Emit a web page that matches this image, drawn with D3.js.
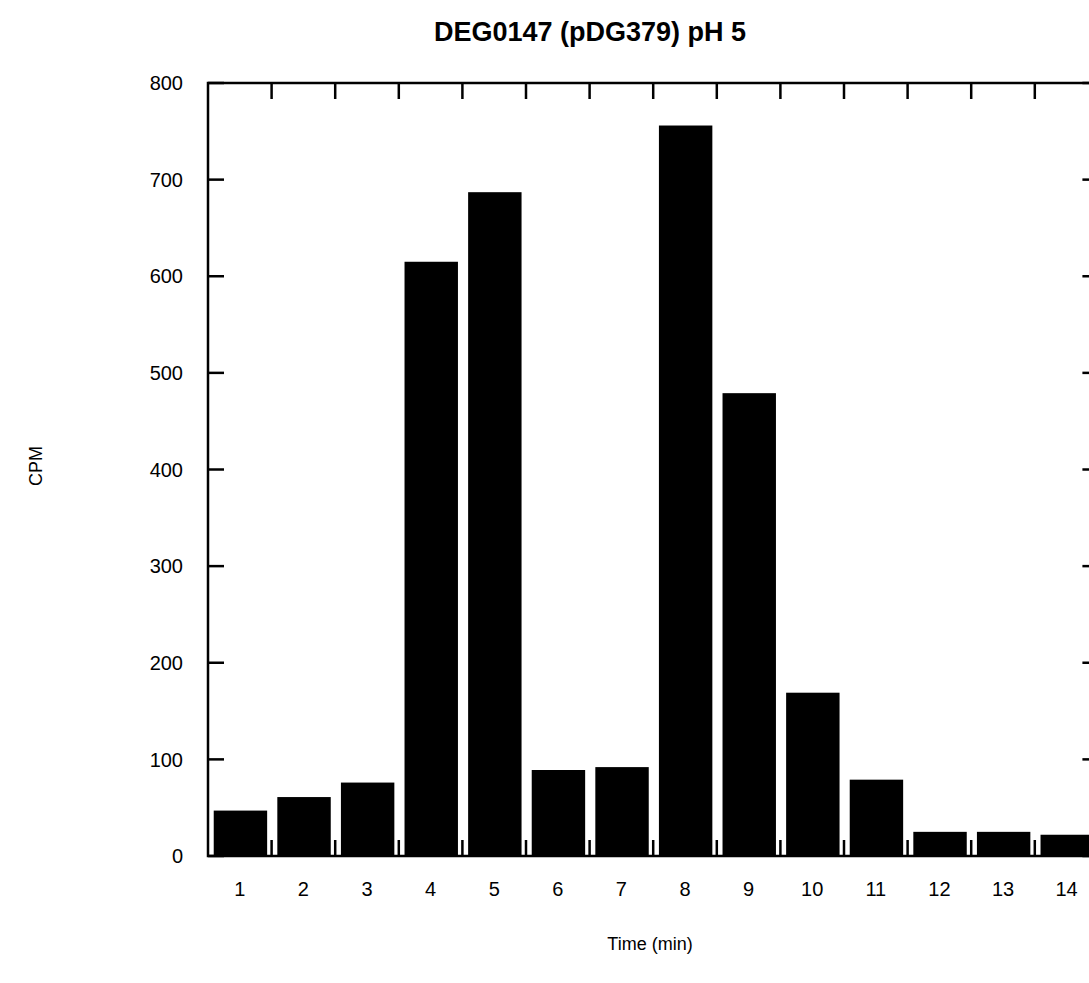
<!DOCTYPE html>
<html>
<head>
<meta charset="UTF-8">
<title>DEG0147 (pDG379) pH 5</title>
<script src="https://d3js.org/d3.v7.min.js"></script>
<style>
  body {margin: 0; background: #fff;}
  text {font-family: "Liberation Sans", Arial, Helvetica, sans-serif; fill: #000;}
  .bar {fill: #000;}
  .frame, .tick {stroke: #000; stroke-width: 2.5; fill: none;}
</style>
</head>
<body>
<div id="chart"></div>
<script>
// data
var minutes = ["1","2","3","4","5","6","7","8","9","10","11","12","13","14"];
var cpm = [47, 61, 76, 615, 687, 89, 92, 756, 479, 169, 79, 25, 25, 22];
var yTicks = [0, 100, 200, 300, 400, 500, 600, 700, 800];

var W = 1089, H = 983;
var plotLeft = 208, plotTop = 83, plotBase = 856, step = 63.6;
var plotRight = plotLeft + step * minutes.length;   // runs past the window edge, like the original

var svg = d3.select("#chart").append("svg")
    .attr("width", W)
    .attr("height", H);

var x = d3.scaleBand()
    .domain(minutes)
    .range([plotLeft, plotRight])
    .padding(0);

var y = d3.scaleLinear()
    .domain([0, 800])
    .range([plotBase, plotTop]);

// bars
svg.append("g").selectAll("rect")
    .data(cpm)
    .enter().append("rect")
    .attr("class", "bar")
    .attr("x", function(d, i) { return x(minutes[i]) + x.bandwidth() * 0.09; })
    .attr("width", x.bandwidth() * 0.84)
    .attr("y", function(d) { return y(d); })
    .attr("height", function(d) { return y(0) - y(d); });

// frame
svg.append("rect")
    .attr("class", "frame")
    .attr("x", plotLeft).attr("y", plotTop)
    .attr("width", plotRight - plotLeft).attr("height", plotBase - plotTop);

// x ticks between categories, top and bottom, pointing inward
var tl = 16;
var between = minutes.slice(1);
var ticks = svg.append("g");
ticks.selectAll(".xt-top").data(between).enter().append("line")
    .attr("class", "tick")
    .attr("x1", function(d) { return x(d); }).attr("x2", function(d) { return x(d); })
    .attr("y1", plotTop).attr("y2", plotTop + tl);
ticks.selectAll(".xt-bot").data(between).enter().append("line")
    .attr("class", "tick")
    .attr("x1", function(d) { return x(d); }).attr("x2", function(d) { return x(d); })
    .attr("y1", plotBase).attr("y2", plotBase - tl);

// y ticks left and right
ticks.selectAll(".yt-l").data(yTicks).enter().append("line")
    .attr("class", "tick")
    .attr("x1", plotLeft).attr("x2", plotLeft + tl)
    .attr("y1", function(d) { return y(d); }).attr("y2", function(d) { return y(d); });
ticks.selectAll(".yt-r").data(yTicks).enter().append("line")
    .attr("class", "tick")
    .attr("x1", plotRight).attr("x2", plotRight - tl)
    .attr("y1", function(d) { return y(d); }).attr("y2", function(d) { return y(d); });

// tick labels
svg.append("g").selectAll("text")
    .data(yTicks)
    .enter().append("text")
    .attr("x", 183)
    .attr("y", function(d) { return y(d); })
    .attr("dy", "0.36em")
    .attr("text-anchor", "end")
    .style("font-size", "20px")
    .text(function(d) { return d; });

svg.append("g").selectAll("text")
    .data(minutes)
    .enter().append("text")
    .attr("x", function(d) { return x(d) + x.bandwidth() / 2; })
    .attr("y", 896)
    .attr("text-anchor", "middle")
    .style("font-size", "20px")
    .text(function(d) { return d; });

// titles
svg.append("text")
    .attr("x", 590).attr("y", 41)
    .attr("text-anchor", "middle")
    .style("font-size", "27px")
    .style("font-weight", "bold")
    .text("DEG0147 (pDG379) pH 5");

svg.append("text")
    .attr("x", 650).attr("y", 950)
    .attr("text-anchor", "middle")
    .style("font-size", "18px")
    .text("Time (min)");

svg.append("text")
    .attr("transform", "translate(42,466) rotate(-90)")
    .attr("text-anchor", "middle")
    .style("font-size", "18px")
    .text("CPM");
</script>
</body>
</html>
